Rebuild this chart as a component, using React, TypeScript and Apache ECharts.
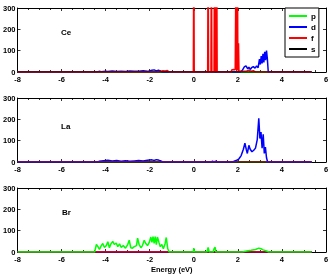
import React, { useEffect, useRef } from "react";
import * as echarts from "echarts";

const xTicks = [-8, -6, -4, -2, 0, 2, 4, 6];
const yTicks = [0, 100, 200, 300];
const panelLabels = ["Ce", "La", "Br"];
const seriesNames = ["p", "d", "f", "s"];
const seriesColors = ["#00ff00", "#0000ff", "#ff0000", "#000000"];

// Ce panel
const ceP = [[-8, 0], [5.35, 0]];
const ceD = [
  [-8, 0], [-4.4, 0], [-4.3, 3], [-4.2, 1], [-4.0, 4], [-3.9, 2], [-3.7, 5], [-3.5, 2], [-3.3, 4], [-3.1, 2],
  [-2.9, 5], [-2.7, 3], [-2.5, 4], [-2.3, 6], [-2.1, 3], [-1.9, 8], [-1.8, 10], [-1.7, 5], [-1.6, 9], [-1.5, 3],
  [-1.4, 0], [2.1, 0], [2.2, 8], [2.3, 25], [2.37, 28], [2.45, 15], [2.5, 22], [2.57, 12], [2.62, 20], [2.7, 25],
  [2.78, 18], [2.85, 28], [2.92, 20], [2.98, 60], [3.02, 35], [3.06, 75], [3.1, 40], [3.14, 85], [3.18, 45],
  [3.22, 95], [3.26, 55], [3.3, 100], [3.34, 60], [3.38, 0], [5.35, 0],
];
const ceF = [
  [-8, 0], [-1.6, 0], [-1.5, 4], [-1.4, 6], [-1.3, 5], [-1.2, 7], [-1.1, 0], [-0.02, 0], [0, 600], [0.02, 0],
  [0.63, 0], [0.65, 600], [0.67, 0], [0.78, 0], [0.8, 600], [0.82, 0], [0.92, 0], [0.94, 600], [0.97, 0],
  [0.99, 600], [1.02, 0], [1.04, 600], [1.06, 0], [1.7, 0], [1.72, 10], [1.8, 12], [1.88, 10], [1.92, 600],
  [1.95, 0], [1.98, 600], [2.0, 10], [2.03, 135], [2.05, 3], [2.4, 5], [2.5, 8], [2.6, 4], [2.7, 6], [2.8, 0],
  [5.35, 0],
];
const ceS = [[-8, 0], [5.35, 0]];

// La panel
const laP = [[-8, 0], [5.35, 0]];
const laD = [
  [-8, 0], [-4.4, 0], [-4.3, 3], [-4.1, 6], [-3.9, 8], [-3.7, 5], [-3.5, 7], [-3.3, 4], [-3.1, 6], [-2.9, 3],
  [-2.7, 5], [-2.5, 7], [-2.3, 5], [-2.1, 8], [-1.9, 10], [-1.8, 7], [-1.7, 11], [-1.6, 9], [-1.5, 5], [-1.4, 0],
  [0.8, 0], [0.85, 5], [0.9, 0], [1.0, 4], [1.05, 0], [1.7, 0], [1.8, 3], [1.95, 8], [2.05, 15], [2.15, 30],
  [2.25, 60], [2.32, 88], [2.38, 60], [2.43, 40], [2.5, 78], [2.56, 60], [2.64, 48], [2.72, 55], [2.8, 65],
  [2.88, 105], [2.95, 205], [3.0, 110], [3.05, 140], [3.1, 65], [3.15, 130], [3.2, 40], [3.25, 70], [3.3, 20],
  [3.35, 0], [5.35, 0],
];
const laF = [[-8, 0], [5.35, 0]];
const laS = [[-8, 0], [5.35, 0]];

// Br panel
const brP = [
  [-8, 0], [-4.5, 0], [-4.42, 35], [-4.35, 25], [-4.28, 12], [-4.2, 30], [-4.13, 40], [-4.06, 22], [-3.97, 30],
  [-3.9, 48], [-3.83, 20], [-3.76, 38], [-3.68, 50], [-3.6, 35], [-3.52, 42], [-3.45, 25], [-3.37, 38], [-3.3, 22],
  [-3.2, 30], [-3.1, 18], [-3.0, 35], [-2.93, 55], [-2.86, 20], [-2.78, 18], [-2.7, 25], [-2.6, 30], [-2.55, 65],
  [-2.48, 35], [-2.4, 20], [-2.33, 30], [-2.25, 55], [-2.18, 40], [-2.1, 30], [-2.02, 45], [-1.95, 70], [-1.9, 45],
  [-1.85, 72], [-1.8, 40], [-1.75, 72], [-1.7, 35], [-1.65, 70], [-1.58, 45], [-1.52, 25], [-1.45, 35], [-1.38, 15],
  [-1.3, 40], [-1.25, 68], [-1.18, 15], [-1.12, 0], [-0.02, 0], [0, 18], [0.03, 0], [0.6, 0], [0.65, 22], [0.7, 0],
  [0.88, 0], [0.92, 15], [0.97, 22], [1.0, 0], [2.2, 0], [2.4, 5], [2.6, 8], [2.8, 12], [2.95, 18], [3.05, 15],
  [3.15, 10], [3.3, 5], [3.4, 0], [5.35, 0],
];
const brD = [[-8, 0], [5.35, 0]];
const brF = [[-8, 0], [5.35, 0]];
const brS = [[-8, 0], [5.35, 0]];

const FONT = "'Liberation Sans', Arial, sans-serif";

export default function App() {
  const ref = useRef<HTMLDivElement>(null);
  useEffect(() => {
    if (!ref.current) return;
    const chart = echarts.init(ref.current, null, { renderer: "svg" });
    const tops = [8, 98, 188];
    const grids = tops.map((t) => ({ left: 14, right: 6, top: t, height: 64 }));
    const xAxes: any[] = [];
    const yAxes: any[] = [];
    tops.forEach((_, i) => {
      const base = {
        type: "value", gridIndex: i, min: xTicks[0], max: xTicks[xTicks.length - 1], interval: 2,
        axisLine: { show: true, onZero: false, lineStyle: { color: "#000", width: 1 } },
        axisTick: { show: true, inside: true, length: 3, lineStyle: { color: "#000", width: 0.8 } },
        minorTick: { show: true, splitNumber: 4, length: 2, lineStyle: { color: "#000", width: 0.8 } },
        splitLine: { show: false },
      };
      xAxes.push({
        ...base, position: "bottom",
        axisLabel: { show: true, fontSize: 7.5, fontWeight: "bold", color: "#000", fontFamily: FONT, margin: 3 },
        ...(i === 2 ? { name: "Energy (eV)", nameLocation: "middle", nameGap: 13,
          nameTextStyle: { fontSize: 7.5, fontWeight: "bold", color: "#000", fontFamily: FONT } } : {}),
      });
      xAxes.push({ ...base, position: "top", axisLabel: { show: false } });
      const ybase = {
        type: "value", gridIndex: i, min: yTicks[0], max: yTicks[yTicks.length - 1], interval: 100,
        axisLine: { show: true, onZero: false, lineStyle: { color: "#000", width: 1 } },
        axisTick: { show: true, inside: true, length: 3, lineStyle: { color: "#000", width: 0.8 } },
        splitLine: { show: false },
      };
      yAxes.push({
        ...ybase, position: "left",
        axisLabel: { show: true, fontSize: 7.5, fontWeight: "bold", color: "#000", fontFamily: FONT, margin: 2 },
      });
      yAxes.push({ ...ybase, position: "right", axisLabel: { show: false } });
    });

    const mk = (name: string, data: number[][], panel: number, width = 1.5) => {
      const idx = seriesNames.indexOf(name);
      return {
        type: "line", name, data, xAxisIndex: panel * 2, yAxisIndex: panel * 2,
        showSymbol: false, symbol: "none", clip: true,
        lineStyle: { color: seriesColors[idx], width },
        itemStyle: { color: seriesColors[idx] },
      };
    };

    const series = [
      mk("p", ceP, 0), mk("d", ceD, 0), mk("f", ceF, 0), mk("s", ceS, 0, 1),
      mk("p", laP, 1), mk("s", laS, 1), mk("d", laD, 1), mk("f", laF, 1, 0.8),
      mk("s", brS, 2), mk("d", brD, 2), mk("f", brF, 2), mk("p", brP, 2),
    ];

    const labelPos = [[61, 28], [61, 122], [62, 208]];
    chart.setOption({
      animation: false,
      grid: grids,
      xAxis: xAxes,
      yAxis: yAxes,
      series,
      legend: {
        data: seriesNames, orient: "vertical", left: 285, top: 8, selectedMode: false,
        icon: "rect", itemWidth: 18, itemHeight: 2, itemGap: 1, padding: [3, 3, 3, 4],
        borderColor: "#000", borderWidth: 1, backgroundColor: "#fff",
        textStyle: { fontSize: 8, fontWeight: "bold", color: "#000", fontFamily: FONT, lineHeight: 10, padding: [0, 0, 0, -1] },
      },
      graphic: panelLabels.map((t, i) => ({
        type: "text", left: labelPos[i][0], top: labelPos[i][1],
        style: { text: t, font: `bold 8px ${FONT}`, fill: "#000" },
      })),
    });
    return () => chart.dispose();
  }, []);
  return <div ref={ref} style={{ position: "fixed", left: 0, top: 0, width: 332, height: 275 }} />;
}
